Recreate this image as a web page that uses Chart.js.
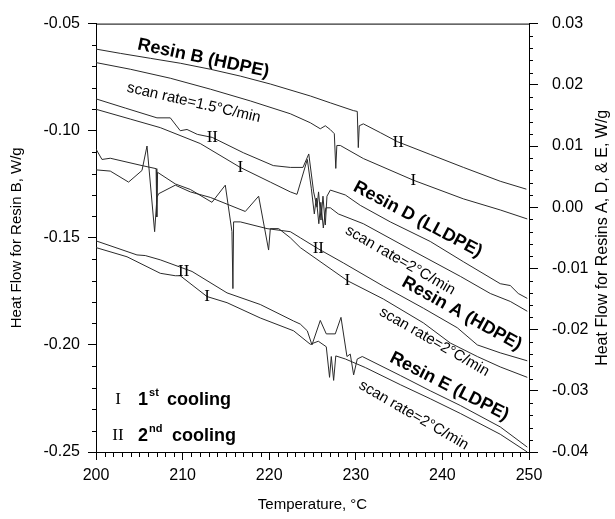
<!DOCTYPE html>
<html>
<head>
<meta charset="utf-8">
<script src="https://cdn.jsdelivr.net/npm/chart.js@4.4.0/dist/chart.umd.min.js"></script>
<style>
  html, body { margin: 0; padding: 0; background: #fff; }
  #wrap { width: 615px; height: 519px; }
</style>
</head>
<body>
<div id="wrap"><canvas id="chart" width="615" height="519"></canvas></div>
<script>
// DSC cooling curves, [temperature °C, heat flow W/g]
// Resin B is read on the left axis, resins A, D and E on the right one
const resinB_II = [[200,-0.0619],[202.81,-0.0639],[206.27,-0.0662],[209.73,-0.0685],[213.2,-0.0713],[216.66,-0.0745],[220.13,-0.0782],[224.75,-0.0838],[227.06,-0.0870],[229.71,-0.0906],[230.17,-0.0910],[230.29,-0.1079],[230.4,-0.0977],[230.87,-0.0968],[232.83,-0.1009],[234.79,-0.1051],[238.6,-0.1111],[242.41,-0.1171],[246.68,-0.1236],[249.7,-0.1273]]
const resinB_I = [[200,-0.0682],[203.96,-0.0713],[208.58,-0.0755],[213.2,-0.0806],[217.82,-0.0861],[222.44,-0.0921],[224.75,-0.0963],[225.9,-0.0991],[226.48,-0.0977],[227.06,-0.0995],[227.52,-0.1014],[227.69,-0.1176],[227.81,-0.1069],[228.21,-0.1069],[230.87,-0.1130],[236.64,-0.1231],[242.41,-0.1318],[246.68,-0.1370],[249.8,-0.1412]]
const resinD_II = [[200,0.0177],[203.38,0.0162],[207.04,0.0146],[208.58,0.0146],[209.73,0.0125],[210.51,0.0127],[211.7,0.0119],[213.43,0.0114],[217.01,0.0089],[220.47,0.0068],[222.44,0.0065],[223.9,0.0065],[224.57,0.0087],[225.13,0.0025],[225.52,0.0000],[225.7,0.0025],[225.98,-0.0021],[226.21,0.0018],[226.48,-0.0029],[226.67,0.0018],[227.06,0.0028],[228.79,0.0020],[230.52,0.0003],[233.98,-0.0024],[238.6,-0.0056],[242.41,-0.0089],[246.68,-0.0125],[247.84,-0.0128],[248.76,-0.0141],[249.8,-0.0149]]
const resinD_I = [[200,0.0160],[203.96,0.0144],[207.42,0.0130],[212.04,0.0104],[216.66,0.0065],[220.13,0.0041],[222.44,0.0025],[223.21,0.0021],[224.4,0.0078],[224.86,0.0031],[225.21,-0.0011],[225.44,0.0015],[225.73,-0.0027],[225.96,0.0008],[226.25,-0.0034],[226.54,-0.0001],[227.06,-0.0001],[227.98,-0.0011],[230.87,-0.0027],[236.3,-0.0069],[242.07,-0.0113],[245.53,-0.0141],[247.84,-0.0154],[249.8,-0.0170]]
const resinA_II = [[200,0.0095],[200.69,0.0078],[201.65,0.0080],[205.31,0.0068],[206.94,0.0063],[207.02,-0.0016],[207.11,0.0057],[209.16,0.0038],[210.89,0.0029],[213.39,0.0008],[214.93,0.0036],[215.7,-0.0040],[215.81,-0.0133],[215.89,-0.0024],[216.66,-0.0024],[219.75,-0.0035],[222.44,-0.0040],[223.59,-0.0050],[225.67,-0.0068],[228.56,-0.0091],[233.18,-0.0129],[237.8,-0.0165],[241.72,-0.0197],[244.03,-0.0225],[246.68,-0.0238],[249.8,-0.0251]]
const resinA_I = [[200,0.0061],[201.65,0.0059],[203.76,0.0041],[205.31,0.0060],[205.89,0.0100],[206.77,-0.0040],[207.04,0.0016],[207.23,0.0022],[209.16,0.0036],[210.89,0.0025],[213.2,0.0016],[217.24,-0.0007],[218.78,0.0018],[219.93,-0.0070],[220.13,-0.0035],[221.09,-0.0035],[222.44,-0.0050],[223.59,-0.0066],[229.02,-0.0120],[233.18,-0.0150],[237.8,-0.0189],[240.92,-0.0222],[244.03,-0.0244],[246.68,-0.0261],[249.8,-0.0278]]
const resinE_II = [[200,-0.0055],[204.73,-0.0078],[205.69,-0.0079],[207.42,-0.0086],[211.09,-0.0105],[215.13,-0.0140],[218.97,-0.0159],[222.82,-0.0186],[223.59,-0.0191],[224.4,-0.0202],[224.94,-0.0225],[225.9,-0.0185],[226.59,-0.0207],[227.63,-0.0207],[228.29,-0.0180],[228.98,-0.0244],[229.36,-0.0240],[229.75,-0.0274],[230.17,-0.0248],[230.75,-0.0244],[235.14,-0.0275],[238.6,-0.0300],[242.07,-0.0324],[246.68,-0.0359],[249.8,-0.0392]]
const resinE_I = [[200,-0.0066],[203.58,-0.0081],[207.42,-0.0108],[209.16,-0.0112],[209.73,-0.0112],[212.82,-0.0146],[215.13,-0.0156],[218.97,-0.0181],[222.82,-0.0202],[224.75,-0.0224],[225.67,-0.0219],[226.59,-0.0228],[226.97,-0.0278],[227.17,-0.0244],[227.44,-0.0283],[227.69,-0.0243],[228.79,-0.0248],[231.1,-0.0262],[235.14,-0.0290],[238.6,-0.0313],[242.07,-0.0337],[246.68,-0.0371],[249.8,-0.0400]]

// run markers sitting on the curves: [text, T, value, axis]
const runMarks = [
  ['II', 234.9, -0.1056, 'y'], ['I', 236.64, -0.1231, 'y'],
  ['II', 213.43, 0.0114, 'y1'], ['I', 216.66, 0.0065, 'y1'],
  ['II', 225.67, -0.0068, 'y1'], ['I', 229.02, -0.0120, 'y1'],
  ['II', 210.12, -0.0105, 'y1'], ['I', 212.82, -0.0146, 'y1'],
]
// curve names: [text, T, value, axis, angle, bold]
const curveNames = [
  ['Resin B (HDPE)', 212.39, -0.0662, 'y', 12, true],
  ['scan rate=1.5°C/min', 211.29, -0.0870, 'y', 13, false],
  ['Resin D (LLDPE)', 237.16, -0.0020, 'y1', 28, true],
  ['scan rate=2°C/min', 235.14, -0.0087, 'y1', 30, false],
  ['Resin A (HDPE)', 242.24, -0.0174, 'y1', 29, true],
  ['scan rate=2°C/min', 239.07, -0.0220, 'y1', 30, false],
  ['Resin E (LDPE)', 240.8, -0.0293, 'y1', 27, true],
  ['scan rate=2°C/min', 236.69, -0.0340, 'y1', 30, false],
]
const legendRows = [['I', '1', 'st'], ['II', '2', 'nd']]
const rightTitle = 'Heat Flow for Resins A, D, & E, W/g'

const SANS = '"Liberation Sans", Arial, sans-serif'
const SERIF = '"Liberation Serif", "Times New Roman", serif'

function curve(points, axis) {
  return {
    data: points.map(([x, y]) => ({ x, y })),
    yAxisID: axis,
    borderColor: '#2a2a2a',
    borderWidth: 1,
    pointRadius: 0,
    tension: 0,
    fill: false,
  }
}

function fmt(v) {
  return Math.abs(v) < 1e-9 ? '0.00' : Number(v).toFixed(2)
}

function textAt(ctx, str, px, py, angle, font) {
  ctx.save()
  ctx.translate(px, py)
  ctx.rotate(angle * Math.PI / 180)
  ctx.font = font
  ctx.textAlign = 'center'
  ctx.textBaseline = 'middle'
  ctx.fillText(str, 0, 0)
  ctx.restore()
}

const overlay = {
  id: 'overlay',
  afterDraw(chart) {
    const { ctx, chartArea: a, scales } = chart
    const x = scales.x
    ctx.save()
    ctx.strokeStyle = '#000'
    ctx.lineWidth = 1
    ctx.beginPath()
    ctx.moveTo(a.left, a.top + 0.5)
    ctx.lineTo(a.right, a.top + 0.5)
    // minor ticks
    for (let t = 200; t <= 250; t++) {
      if (t % 10 === 0) continue
      const px = Math.round(x.getPixelForValue(t)) + 0.5
      ctx.moveTo(px, a.bottom)
      ctx.lineTo(px, a.bottom + 5)
    }
    for (let i = 0; i <= 20; i++) {
      if (i % 5 === 0) continue
      const py = Math.round(scales.y.getPixelForValue(-0.25 + i * 0.01)) + 0.5
      ctx.moveTo(a.left - 4, py)
      ctx.lineTo(a.left, py)
    }
    for (let i = 0; i <= 35; i++) {
      if (i % 5 === 0) continue
      const py = Math.round(scales.y1.getPixelForValue(-0.04 + i * 0.002)) + 0.5
      ctx.moveTo(a.right, py)
      ctx.lineTo(a.right + 4, py)
    }
    ctx.stroke()

    ctx.fillStyle = '#000'
    // right axis title reads bottom to top, like the left one
    textAt(ctx, rightTitle, 603, (a.top + a.bottom) / 2, -90, '16px ' + SANS)

    runMarks.forEach(([s, t, v, ax]) => {
      textAt(ctx, s, x.getPixelForValue(t), scales[ax].getPixelForValue(v), 0, '17px ' + SERIF)
    })
    curveNames.forEach(([s, t, v, ax, ang, bold]) => {
      const font = bold ? 'bold 18px ' + SANS : '15px ' + SANS
      textAt(ctx, s, x.getPixelForValue(t), scales[ax].getPixelForValue(v), ang, font)
    })

    // legend for the run markers
    legendRows.forEach(([mark, num, sup], i) => {
      const base = a.bottom - 47 + i * 36
      textAt(ctx, mark, a.left + 22, base - 5, 0, '17px ' + SERIF)
      ctx.textAlign = 'left'
      ctx.textBaseline = 'alphabetic'
      ctx.font = 'bold 18px ' + SANS
      ctx.fillText(num, a.left + 42, base)
      const w = ctx.measureText(num).width
      ctx.font = 'bold 11px ' + SANS
      ctx.fillText(sup, a.left + 42 + w + 1, base - 9)
      ctx.font = 'bold 18px ' + SANS
      ctx.fillText('cooling', a.left + 71 + i * 5, base)
    })
    ctx.restore()
  }
}

new Chart(document.getElementById('chart'), {
  type: 'line',
  data: {
    datasets: [
      curve(resinB_II, 'y'), curve(resinB_I, 'y'),
      curve(resinD_II, 'y1'), curve(resinD_I, 'y1'),
      curve(resinA_II, 'y1'), curve(resinA_I, 'y1'),
      curve(resinE_II, 'y1'), curve(resinE_I, 'y1'),
    ]
  },
  options: {
    responsive: false,
    animation: false,
    events: [],
    layout: { padding: { top: 20, left: 0, right: 0, bottom: 0 } },
    plugins: { legend: { display: false }, tooltip: { enabled: false } },
    scales: {
      x: {
        type: 'linear', min: 200, max: 250,
        ticks: { stepSize: 10, color: '#000', font: { family: SANS, size: 16 }, padding: 6, maxRotation: 0 },
        grid: { drawOnChartArea: false, tickLength: 8, color: '#000' },
        border: { color: '#000' },
        title: { display: true, text: 'Temperature, °C', color: '#000', font: { family: SANS, size: 15 }, padding: { top: 5, bottom: 5 } },
        afterFit: s => { s.height = 67 },
      },
      y: {
        type: 'linear', position: 'left', min: -0.25, max: -0.05,
        ticks: { stepSize: 0.05, color: '#000', font: { family: SANS, size: 16 }, padding: 8, callback: fmt },
        grid: { drawOnChartArea: false, tickLength: 8, color: '#000' },
        border: { color: '#000' },
        title: { display: true, text: 'Heat Flow for Resin B, W/g', color: '#000', font: { family: SANS, size: 15 }, padding: { top: 8, bottom: 0 } },
        afterFit: s => { s.width = 96 },
      },
      y1: {
        type: 'linear', position: 'right', min: -0.04, max: 0.03,
        ticks: { stepSize: 0.01, color: '#000', font: { family: SANS, size: 16 }, padding: 14, callback: fmt },
        grid: { drawOnChartArea: false, tickLength: 9, color: '#000' },
        border: { color: '#000' },
        afterFit: s => { s.width = 86 },
      },
    },
  },
  plugins: [overlay],
})
</script>
</body>
</html>
